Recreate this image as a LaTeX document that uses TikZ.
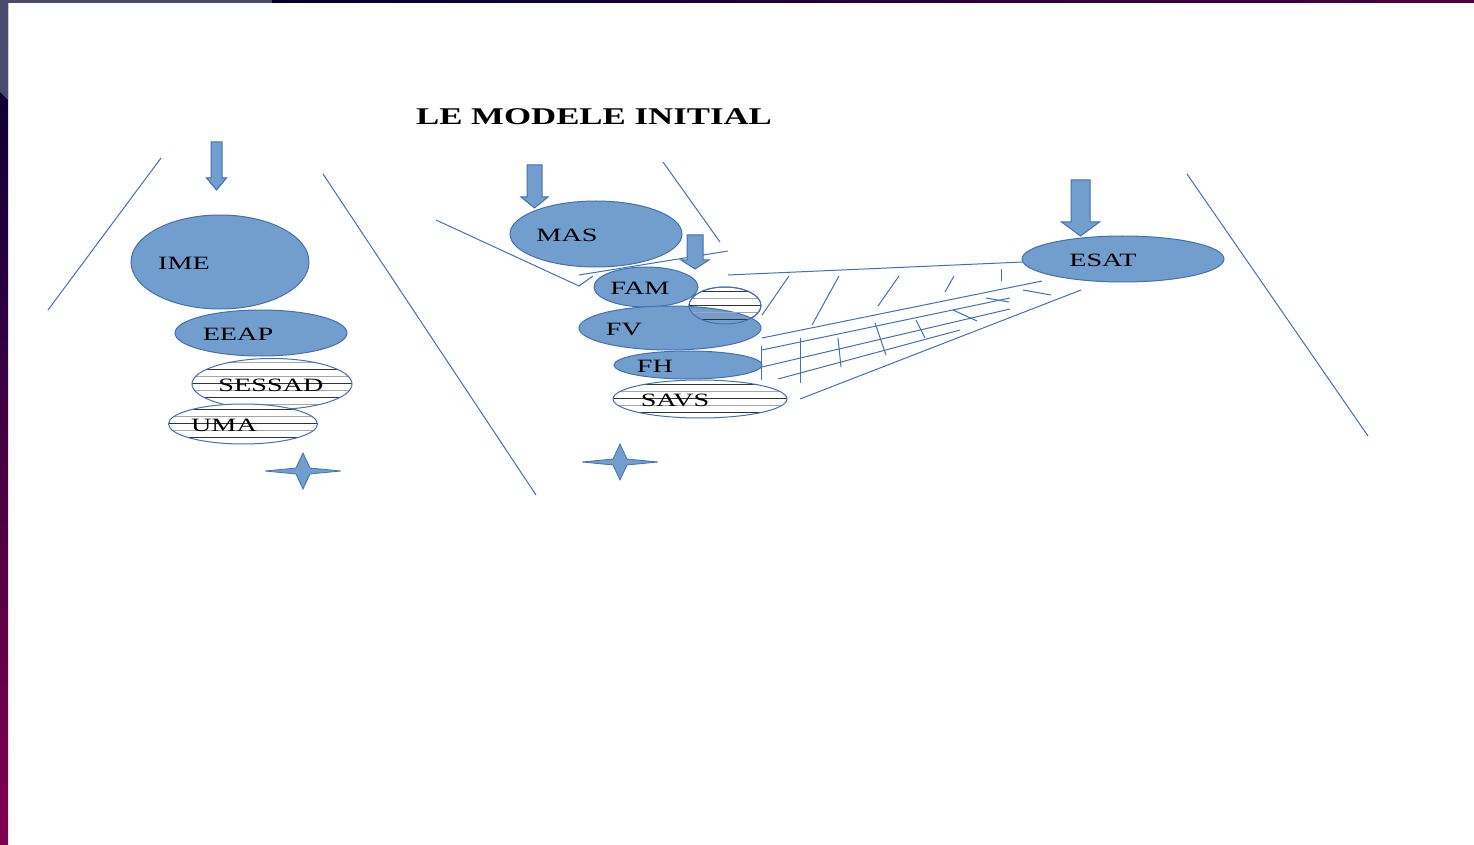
\documentclass[tikz,border=0pt]{standalone}
\usepackage{fontspec}
\setmainfont{Liberation Serif}
\newfontfamily\titlefont[FakeStretch=1.45]{Liberation Serif}
\newfontfamily\lblfont[FakeStretch=1.5]{Liberation Serif}
\usetikzlibrary{shapes.geometric}
\definecolor{fillblue}{RGB}{114,158,206}
\definecolor{edgeblue}{RGB}{65,113,178}
\definecolor{barnavy}{RGB}{0,0,51}
\definecolor{barplum}{RGB}{128,0,80}
\definecolor{barpurple}{RGB}{80,0,64}
\definecolor{bargray}{RGB}{74,74,110}

\begin{document}
\begin{tikzpicture}[x=0.5pt,y=-0.5pt,
  bubble/.style={ellipse,draw=edgeblue,fill=fillblue,line width=0.5pt,inner sep=0pt},
  striped/.style={ellipse,draw=edgeblue,fill=white,line width=0.5pt,inner sep=0pt,
    path picture={
      \foreach \k in {-8,-6,...,8}
        \draw[black!80,line width=0.5pt]
          ([yshift=\k*3.5pt]path picture bounding box.west) --
          ([yshift=\k*3.5pt]path picture bounding box.east);
      \foreach \k in {-7,-5,...,7}
        \draw[gray!70,line width=0.5pt]
          ([yshift=\k*3.5pt]path picture bounding box.west) --
          ([yshift=\k*3.5pt]path picture bounding box.east);
    }},
  lbl/.style={font=\lblfont\fontsize{9.4}{11}\selectfont,inner sep=0pt,yshift=-0.75pt},
  thin/.style={draw=edgeblue,line width=0.5pt},
  blockarrow/.style={fill=fillblue,draw=edgeblue,line width=0.5pt},
  spark/.style={fill=fillblue,draw=edgeblue,line width=0.4pt}]
 \useasboundingbox (0,0) rectangle (1474,845);
 % frame of the slide
 \shade[top color=barnavy,bottom color=barplum] (0,0) rectangle (8,845);
 \fill[bargray] (0,0) -- (8,0) -- (8,100) -- (0,92) -- cycle;
 \fill[bargray] (0,0) rectangle (272,3);
 \shade[left color=barnavy,right color=barpurple] (272,0) rectangle (1474,3);
 \node[font=\titlefont\bfseries\fontsize{12}{14}\selectfont] (title) at (594,117) {LE MODELE INITIAL};
 % brackets
 \draw[thin] (48,310) -- (161,158);
 \draw[thin] (323,174) -- (536,495);
 \draw[thin] (436,220) -- (579,286) -- (593,276);
 \draw[thin] (579,275) -- (728,251);
 \draw[thin] (663,162) -- (720,242);
 \draw[thin] (1187,174) -- (1368,436);
 % arrows
 \foreach \x/\t/\w/\s/\h/\e in {216.5/142/5.5/178/10/190, 534.5/165/7.5/197/13.5/208,
   695/235/8/260/14/269, 1080.5/180/9.5/222/19/236}
   \filldraw[blockarrow] (\x-\w,\t) -- (\x+\w,\t) -- (\x+\w,\s) -- (\x+\h,\s)
     -- (\x,\e) -- (\x-\h,\s) -- (\x-\w,\s) -- cycle;
 % first group
 \node[bubble,minimum width=89pt,minimum height=47pt,label={[lbl,xshift=-18pt]center:IME}] (ime) at (220,262) {};
 \node[bubble,minimum width=86pt,minimum height=23pt,label={[lbl,xshift=-11.5pt]center:EEAP}] (eeap) at (261,333) {};
 \node[striped,minimum width=80pt,minimum height=25.5pt,label={[lbl,xshift=-0.5pt]center:SESSAD}] (sessad) at (272,384) {};
 \node[striped,minimum width=74.5pt,minimum height=20pt,label={[lbl,xshift=-9.5pt]center:UMA}] (uma) at (243,424) {};
 % second group
 \node[bubble,minimum width=86pt,minimum height=33pt,label={[lbl,xshift=-14.5pt]center:MAS}] (mas) at (596,234) {};
 \node[bubble,minimum width=52pt,minimum height=20pt,label={[lbl,xshift=-3pt]center:FAM}] (fam) at (646,287) {};
 \node[striped,minimum width=36pt,minimum height=18.5pt] (famx) at (725,305.5) {};
 \node[bubble,minimum width=91pt,minimum height=22pt,label={[lbl,xshift=-23pt]center:FV}] (fv) at (670,328) {};
 \node[striped,fill=none,minimum width=36pt,minimum height=18.5pt] (famy) at (725,305.5) {};
 \node[bubble,minimum width=74pt,minimum height=14pt,label={[lbl,xshift=-16.5pt]center:FH}] (fh) at (688,365) {};
 \node[striped,minimum width=87pt,minimum height=19pt,label={[lbl,xshift=-12.5pt]center:SAVS}] (savs) at (700,399) {};
 % third group
 \node[bubble,minimum width=101pt,minimum height=23pt,label={[lbl,xshift=-10pt]center:ESAT}] (esat) at (1123,259) {};
 % fan towards ESAT
 \draw[thin] (728,275) -- (1023,262);
 \draw[thin] (762,338) -- (1042,281);
 \draw[thin] (762,350) -- (1010,298);
 \draw[thin] (762,367) -- (1010,309);
 \draw[thin] (778,379) -- (960,330);
 \draw[thin] (800,399) -- (1081,290);
 \draw[thin] (1023,290) -- (1051,295);
 \draw[thin] (986,298) -- (1009,302);
 \draw[thin] (953,310) -- (977,321);
 \foreach \a/\b/\c/\d in {762/315/789/276, 812/325/839/276, 878/306/899/276, 945/292/954/276,
   1001/281/1001/269, 761/346/761/380, 800/338/800/383, 838/338/841/367, 875/323/886/355, 916/320/925/338}
   \draw[thin] (\a,\b) -- (\c,\d);
 % sparkles
 \foreach \c in {(303,471),(620,462)}
   \filldraw[spark,shift={\c}] (-38,0) -- (-7,-3) -- (0,-18) -- (7,-3) -- (38,0)
     -- (7,3) -- (0,18) -- (-7,3) -- cycle;
\end{tikzpicture}
\end{document}
